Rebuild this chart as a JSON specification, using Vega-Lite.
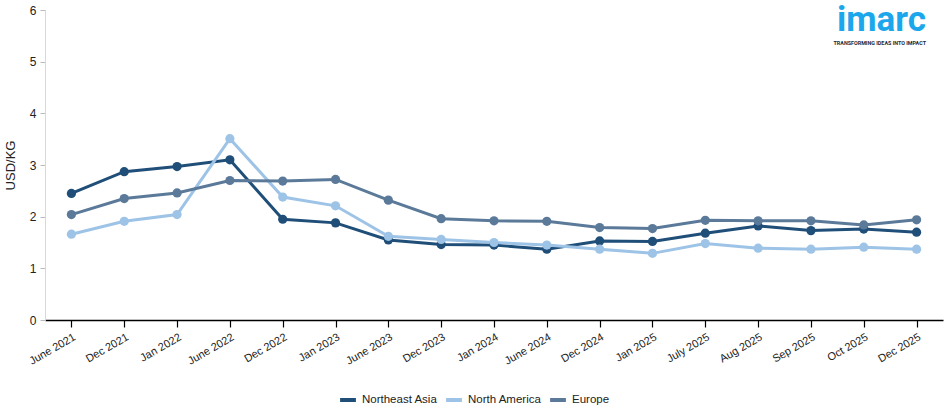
{
  "$schema": "https://vega.github.io/schema/vega-lite/v6.json",
  "width": 898,
  "height": 310,
  "autosize": "none",
  "padding": {"left": 45, "top": 10, "right": 7, "bottom": 94},
  "background": "white",
  "title": {
    "text": "imarc",
    "subtitle": "TRANSFORMING IDEAS INTO IMPACT",
    "anchor": "end",
    "frame": "group",
    "orient": "top",
    "offset": 0,
    "dx": -17,
    "dy": 42,
    "font": "Roboto",
    "fontSize": 35,
    "fontWeight": "bold",
    "color": "#1ca7ec",
    "subtitleFont": "Roboto",
    "subtitleFontSize": 5.4,
    "subtitleFontWeight": "bold",
    "subtitleColor": "#1a2a3a",
    "subtitlePadding": 3
  },
  "data": {
    "values": [
      {"date": "June 2021", "region": "Northeast Asia", "value": 2.45},
      {"date": "Dec 2021", "region": "Northeast Asia", "value": 2.87},
      {"date": "Jan 2022", "region": "Northeast Asia", "value": 2.97},
      {"date": "June 2022", "region": "Northeast Asia", "value": 3.10},
      {"date": "Dec 2022", "region": "Northeast Asia", "value": 1.95},
      {"date": "Jan 2023", "region": "Northeast Asia", "value": 1.88},
      {"date": "June 2023", "region": "Northeast Asia", "value": 1.55},
      {"date": "Dec 2023", "region": "Northeast Asia", "value": 1.46},
      {"date": "Jan 2024", "region": "Northeast Asia", "value": 1.45},
      {"date": "June 2024", "region": "Northeast Asia", "value": 1.37},
      {"date": "Dec 2024", "region": "Northeast Asia", "value": 1.53},
      {"date": "Jan 2025", "region": "Northeast Asia", "value": 1.52},
      {"date": "July 2025", "region": "Northeast Asia", "value": 1.68},
      {"date": "Aug 2025", "region": "Northeast Asia", "value": 1.82},
      {"date": "Sep 2025", "region": "Northeast Asia", "value": 1.73},
      {"date": "Oct 2025", "region": "Northeast Asia", "value": 1.76},
      {"date": "Dec 2025", "region": "Northeast Asia", "value": 1.70},
      {"date": "June 2021", "region": "North America", "value": 1.66},
      {"date": "Dec 2021", "region": "North America", "value": 1.91},
      {"date": "Jan 2022", "region": "North America", "value": 2.04},
      {"date": "June 2022", "region": "North America", "value": 3.51},
      {"date": "Dec 2022", "region": "North America", "value": 2.38},
      {"date": "Jan 2023", "region": "North America", "value": 2.21},
      {"date": "June 2023", "region": "North America", "value": 1.62},
      {"date": "Dec 2023", "region": "North America", "value": 1.56},
      {"date": "Jan 2024", "region": "North America", "value": 1.50},
      {"date": "June 2024", "region": "North America", "value": 1.45},
      {"date": "Dec 2024", "region": "North America", "value": 1.37},
      {"date": "Jan 2025", "region": "North America", "value": 1.29},
      {"date": "July 2025", "region": "North America", "value": 1.48},
      {"date": "Aug 2025", "region": "North America", "value": 1.39},
      {"date": "Sep 2025", "region": "North America", "value": 1.37},
      {"date": "Oct 2025", "region": "North America", "value": 1.41},
      {"date": "Dec 2025", "region": "North America", "value": 1.37},
      {"date": "June 2021", "region": "Europe", "value": 2.04},
      {"date": "Dec 2021", "region": "Europe", "value": 2.35},
      {"date": "Jan 2022", "region": "Europe", "value": 2.46},
      {"date": "June 2022", "region": "Europe", "value": 2.70},
      {"date": "Dec 2022", "region": "Europe", "value": 2.69},
      {"date": "Jan 2023", "region": "Europe", "value": 2.72},
      {"date": "June 2023", "region": "Europe", "value": 2.32},
      {"date": "Dec 2023", "region": "Europe", "value": 1.96},
      {"date": "Jan 2024", "region": "Europe", "value": 1.92},
      {"date": "June 2024", "region": "Europe", "value": 1.91},
      {"date": "Dec 2024", "region": "Europe", "value": 1.79},
      {"date": "Jan 2025", "region": "Europe", "value": 1.77},
      {"date": "July 2025", "region": "Europe", "value": 1.93},
      {"date": "Aug 2025", "region": "Europe", "value": 1.92},
      {"date": "Sep 2025", "region": "Europe", "value": 1.92},
      {"date": "Oct 2025", "region": "Europe", "value": 1.84},
      {"date": "Dec 2025", "region": "Europe", "value": 1.94}
    ]
  },
  "encoding": {
    "x": {
      "field": "date",
      "type": "ordinal",
      "sort": ["June 2021", "Dec 2021", "Jan 2022", "June 2022", "Dec 2022", "Jan 2023", "June 2023", "Dec 2023", "Jan 2024", "June 2024", "Dec 2024", "Jan 2025", "July 2025", "Aug 2025", "Sep 2025", "Oct 2025", "Dec 2025"],
      "scale": {"type": "point", "padding": 0.5},
      "axis": {
        "title": null,
        "labelAngle": -30,
        "labelAlign": "right",
        "labelBaseline": "top",
        "labelFontSize": 11,
        "labelColor": "#222",
        "labelPadding": 4,
        "domainColor": "#000",
        "domainWidth": 1.5,
        "tickColor": "#000",
        "tickSize": 7,
        "tickWidth": 1.2,
        "grid": false
      }
    },
    "y": {
      "field": "value",
      "type": "quantitative",
      "scale": {"domain": [0, 6], "nice": false},
      "axis": {
        "title": "USD/KG",
        "titleFontSize": 13,
        "titleFontWeight": "normal",
        "titleColor": "#222",
        "titlePadding": 12,
        "values": [0, 1, 2, 3, 4, 5, 6],
        "labelOverlap": false,
        "labelFontSize": 12,
        "labelColor": "#222",
        "labelPadding": 4,
        "domainColor": "#d9d9d9",
        "tickColor": "#bbbbbb",
        "tickSize": 5,
        "grid": false
      }
    },
    "color": {
      "field": "region",
      "type": "nominal",
      "sort": ["Northeast Asia", "North America", "Europe"],
      "scale": {"domain": ["Northeast Asia", "North America", "Europe"], "range": ["#1f4e79", "#9dc3e6", "#5b7a99"]},
      "legend": {
        "title": null,
        "orient": "none",
        "legendX": 293,
        "legendY": 380,
        "direction": "horizontal",
        "symbolType": "stroke",
        "symbolStrokeWidth": 4,
        "symbolSize": 250,
        "labelFontSize": 11.5,
        "labelColor": "#222",
        "columnPadding": 0,
        "labelOffset": 4
      }
    }
  },
  "layer": [
    {"mark": {"type": "line", "strokeWidth": 3}},
    {"mark": {"type": "circle", "size": 85, "opacity": 1}}
  ],
  "config": {
    "font": "Liberation Sans",
    "view": {"stroke": null}
  }
}
